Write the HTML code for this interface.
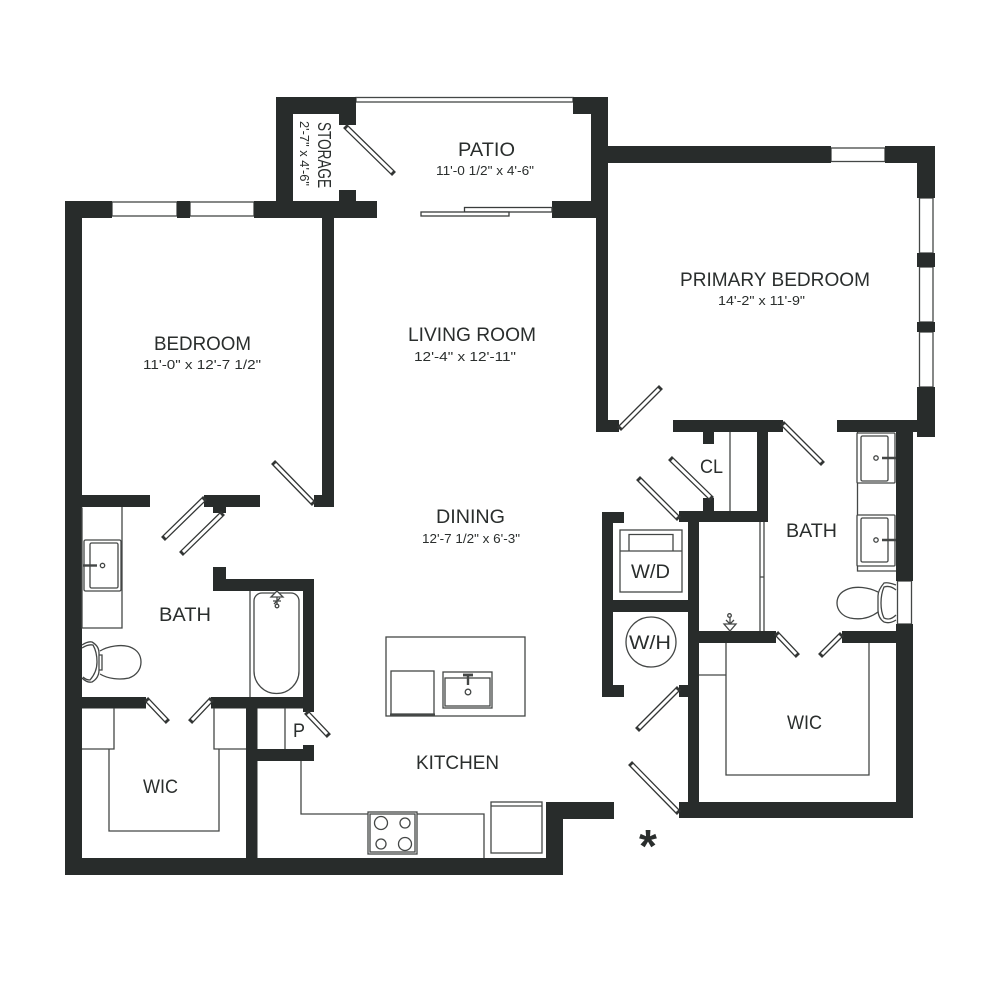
<!DOCTYPE html>
<html><head><meta charset="utf-8"><style>
html,body{margin:0;padding:0;background:#fff;width:1000px;height:1000px;overflow:hidden}
svg{display:block}
text{font-family:"Liberation Sans",sans-serif;fill:#2a2e2d}
.l{font-size:19.500px}
.s{font-size:12.500px}
.t{fill:none;stroke:#444746;stroke-width:1.300}
.t2{fill:#fff;stroke:#3a3d3c;stroke-width:1.300}
</style></head><body>
<svg width="1000" height="1000" viewBox="0 0 1000 1000">
<rect width="1000" height="1000" fill="#fff"/>
<!-- windows -->
<g class="t">
<rect x="356" y="97.500" width="217" height="4.500"/>
<rect x="112" y="202" width="65" height="14"/><rect x="190" y="202" width="64" height="14"/>
<rect x="831" y="148" width="54" height="13.500"/>
<rect x="919.500" y="198" width="13.500" height="55"/><rect x="919.500" y="267" width="13.500" height="55"/><rect x="919.500" y="332" width="13.500" height="55"/>
<rect x="897.500" y="581" width="14" height="43"/>
</g>
<!-- walls -->
<g fill="#282c2b">
<rect x="65" y="201" width="17" height="674"/>
<rect x="65" y="201" width="47" height="17"/><rect x="177" y="201" width="13" height="17"/><rect x="254" y="201" width="123" height="17"/>
<rect x="322" y="218" width="12" height="289"/><rect x="314" y="495" width="20" height="12"/>
<rect x="65" y="858" width="498" height="17"/>
<rect x="82" y="495" width="68" height="12"/><rect x="204" y="495" width="56" height="12"/><rect x="213" y="507" width="13" height="6"/>
<rect x="213" y="567" width="13" height="24"/><rect x="213" y="579" width="101" height="12"/><rect x="303" y="579" width="11" height="133"/>
<rect x="82" y="697" width="64" height="11.500"/><rect x="211" y="697" width="103" height="11.500"/>
<rect x="246" y="708" width="11.500" height="150"/><rect x="257" y="749" width="57" height="12"/><rect x="303" y="745" width="11" height="16"/>
<rect x="276" y="97" width="17" height="108"/><rect x="276" y="97" width="80" height="17"/><rect x="339" y="97" width="17" height="28"/><rect x="339" y="190" width="17" height="20"/>
<rect x="552" y="201" width="56" height="17"/><rect x="573" y="97" width="35" height="17"/><rect x="591" y="97" width="17" height="121"/>
<rect x="596" y="218" width="12" height="214"/><rect x="596" y="420" width="23" height="12"/>
<rect x="608" y="146" width="223" height="17"/><rect x="885" y="146" width="50" height="17"/><rect x="917" y="146" width="18" height="52"/>
<rect x="917" y="253" width="18" height="14"/><rect x="917" y="322" width="18" height="10"/><rect x="917" y="387" width="18" height="50"/>
<rect x="837" y="420" width="98" height="12"/><rect x="896" y="432" width="17" height="149"/><rect x="896" y="624" width="17" height="194"/>
<rect x="673" y="420" width="110" height="12"/><rect x="703" y="432" width="11" height="12"/><rect x="757" y="432" width="11" height="90"/>
<rect x="679" y="511" width="89" height="11"/><rect x="703" y="498" width="11" height="13"/><rect x="688" y="511" width="11" height="307"/>
<rect x="699" y="631" width="77" height="12"/><rect x="842" y="631" width="54" height="12"/>
<rect x="679" y="802" width="234" height="16"/><rect x="679" y="685" width="10" height="12"/>
<rect x="602" y="512" width="11" height="185"/><rect x="602" y="512" width="22" height="11"/><rect x="602" y="685" width="22" height="12"/><rect x="613" y="600" width="75" height="12"/>
<rect x="546" y="802" width="17" height="73"/><rect x="546" y="802" width="68" height="17"/>
</g>
<!-- doors -->
<g fill="none">
<g stroke="#333635" stroke-width="5.600" stroke-linecap="square">
<path d="M347 128L392 172M275 464L312 502M203 500L165 537M221 515L183 552M148 701L166 720M210 701L192 720M308 714L327 734M621 427L659 389M710 497L672 460M677 517L640 480M784 425L821 462M778 635L796 654M840 636L822 654M677 690L639 728M677 811L632 765"/>
</g>
<g stroke="#fff" stroke-width="3">
<path d="M347 128L392 172M275 464L312 502M203 500L165 537M221 515L183 552M148 701L166 720M210 701L192 720M308 714L327 734M621 427L659 389M710 497L672 460M677 517L640 480M784 425L821 462M778 635L796 654M840 636L822 654M677 690L639 728M677 811L632 765"/>
</g>
</g>
<rect x="464.500" y="207.500" width="87.500" height="4.500" class="t2"/>
<rect x="421" y="212" width="88" height="4" class="t2"/>
<!-- left bath -->
<g class="t">
<path d="M82 507.500V628H122V507"/>
<path d="M250 591V697"/>
<path d="M262 593H291A8 8 0 0 1 299 601V671A22.500 22.500 0 0 1 254 671V601A8 8 0 0 1 262 593Z"/>
<rect x="84" y="540" width="37" height="51" rx="1.500" fill="#fff"/>
<rect x="90" y="543" width="28" height="45" rx="1.500"/>
<circle cx="102.500" cy="565.500" r="2.200"/>
<path d="M83 565.500H97" stroke-width="2.400"/>
<path d="M100 651C108 646 122 644 130 647C138 650 141 656 141 662C141 669 137 675 129 678C120 680 108 679 100 674"/>
<path d="M82 645Q88 641 92 642Q99 646 99 653V670Q99 678 92 682Q87 683 82 678"/>
<path d="M82 648Q88 644 93 645Q97 652 97 662Q97 672 90 680Q86 680 83 677"/>
<path d="M99 655H102V670H99"/>
<path d="M271 597L277 591L283 597ZM277 597V606" fill="#fff"/><circle cx="277" cy="606" r="1.800" fill="#fff"/>
<path d="M273 601L281 601M274 604L280 598"/>
<!-- left WIC -->
<path d="M82 749H114V708M109 749V831H219V749M214 708V749H246M285 708V749"/>
<!-- kitchen -->
<path d="M301 761V814H368M417 814H484V858"/>
<rect x="386" y="637" width="139" height="79"/>
<rect x="391" y="671" width="43" height="43"/>
<path d="M390 715H435" stroke-width="3"/>
<rect x="443" y="672" width="49" height="36"/>
<rect x="445" y="678" width="45" height="28"/>
<circle cx="468" cy="692" r="2.800"/>
<path d="M468 675V685" stroke-width="2.400"/>
<path d="M463 675H473" stroke-width="2.800"/>
<rect x="368" y="812" width="49" height="42"/>
<rect x="370" y="814" width="45" height="38"/>
<circle cx="381" cy="823" r="6.500"/><circle cx="405" cy="823" r="5"/><circle cx="381" cy="844" r="5"/><circle cx="405" cy="844" r="6.500"/>
<rect x="491" y="802" width="51" height="51"/>
<path d="M491 806H542"/>
<!-- closet and right bath -->
<path d="M730 432V511M760 522V631M764 522V631M760 577H764"/>
<path d="M857.500 432V571H896"/>
<rect x="857" y="433" width="38" height="50" rx="1" fill="#fff"/>
<rect x="861" y="436" width="27" height="45" rx="1.500"/>
<rect x="857" y="515" width="38" height="51" rx="1" fill="#fff"/>
<rect x="861" y="518" width="27" height="44" rx="1.500"/>
<circle cx="876" cy="458" r="2.200"/><circle cx="876" cy="540" r="2.200"/>
<path d="M882 458H896M882 540H896" stroke-width="2.400"/>
<path d="M878 592C868 587 856 586 848 589C840 592 837 597 837 603C837 610 842 616 850 618C860 620 870 618 878 612"/>
<path d="M896 585Q888 582 884 583Q878 590 878 596V610Q878 618 884 622Q890 624 896 620"/>
<path d="M896 590Q890 585 884 587Q881 594 881 603Q881 612 884 618Q890 621 896 615"/>
<path d="M724 624H736L730 631ZM730 617V624M726 620L730 624L734 620" fill="#fff"/><circle cx="729.500" cy="615.500" r="1.800" fill="#fff"/>
<!-- right WIC -->
<path d="M699 675H726M726 643V775H869V643"/>
<!-- W/D W/H -->
<rect x="620" y="530" width="62" height="62"/>
<path d="M620 551H682"/>
<path d="M629 551V534.500H673V551"/>
<circle cx="651" cy="642" r="25"/>
</g>
<!-- labels -->
<text class="l" x="458" y="156" textLength="57" lengthAdjust="spacingAndGlyphs">PATIO</text>
<text class="s" x="436" y="175" textLength="98" lengthAdjust="spacingAndGlyphs">11'-0 1/2" x 4'-6"</text>
<text class="l" x="154" y="350" textLength="97" lengthAdjust="spacingAndGlyphs">BEDROOM</text>
<text class="s" x="143" y="369" textLength="118" lengthAdjust="spacingAndGlyphs">11'-0" x 12'-7 1/2"</text>
<text class="l" x="408" y="341" textLength="128" lengthAdjust="spacingAndGlyphs">LIVING ROOM</text>
<text class="s" x="414" y="361" textLength="102" lengthAdjust="spacingAndGlyphs">12'-4" x 12'-11"</text>
<text class="l" x="436" y="523" textLength="69" lengthAdjust="spacingAndGlyphs">DINING</text>
<text class="s" x="422" y="543" textLength="98" lengthAdjust="spacingAndGlyphs">12'-7 1/2" x 6'-3"</text>
<text class="l" x="680" y="286" textLength="190" lengthAdjust="spacingAndGlyphs">PRIMARY BEDROOM</text>
<text class="s" x="718" y="305" textLength="87" lengthAdjust="spacingAndGlyphs">14'-2" x 11'-9"</text>
<text class="l" x="159" y="621" textLength="52" lengthAdjust="spacingAndGlyphs">BATH</text>
<text class="l" x="143" y="793" textLength="35" lengthAdjust="spacingAndGlyphs">WIC</text>
<text class="l" x="293" y="737" textLength="12" lengthAdjust="spacingAndGlyphs">P</text>
<text class="l" x="416" y="769" textLength="83" lengthAdjust="spacingAndGlyphs">KITCHEN</text>
<text class="l" x="700" y="473" textLength="23" lengthAdjust="spacingAndGlyphs">CL</text>
<text class="l" x="786" y="537" textLength="51" lengthAdjust="spacingAndGlyphs">BATH</text>
<text class="l" x="631" y="578" textLength="39" lengthAdjust="spacingAndGlyphs">W/D</text>
<text class="l" x="629" y="649" textLength="42" lengthAdjust="spacingAndGlyphs">W/H</text>
<text class="l" x="787" y="729" textLength="35" lengthAdjust="spacingAndGlyphs">WIC</text>
<text class="l" transform="translate(318 122) rotate(90)" textLength="66" lengthAdjust="spacingAndGlyphs" style="font-size:18px">STORAGE</text>
<text class="s" transform="translate(300 121) rotate(90)" textLength="65" lengthAdjust="spacingAndGlyphs">2'-7" x 4'-6"</text>
<text x="648" y="862" text-anchor="middle" style="font-size:46px;font-weight:bold">*</text>
</svg>
</body></html>
